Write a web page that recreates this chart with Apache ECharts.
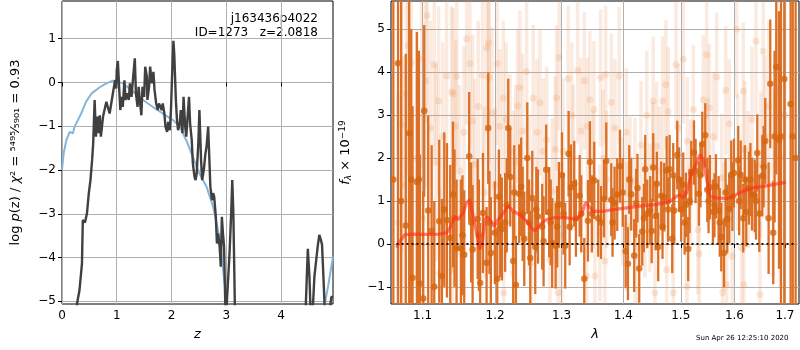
<!DOCTYPE html>
<html>
<head>
<meta charset="utf-8">
<script src="https://cdn.jsdelivr.net/npm/echarts@6/dist/echarts.min.js"></script>
<style>
  html, body { margin: 0; padding: 0; background: #fff; }
  #chart { width: 800px; height: 350px; }
</style>
</head>
<body>
<div id="chart"></div>
<script>
// p(z) panel
var zGrid = [0.2, 0.275, 0.32, 0.365, 0.38, 0.42, 0.456, 0.49, 0.52, 0.55, 0.57, 0.596, 0.62, 0.645, 0.67, 0.69, 0.71, 0.75, 0.785, 0.81,
  0.846, 0.87, 0.91, 0.94, 0.97, 0.99, 1.0, 1.02, 1.04, 1.065, 1.09, 1.11, 1.14, 1.16, 1.19, 1.22, 1.24, 1.27, 1.3, 1.33,
  1.35, 1.38, 1.4, 1.42, 1.45, 1.47, 1.5, 1.52, 1.55, 1.56, 1.59, 1.61, 1.64, 1.67, 1.69, 1.72, 1.75, 1.77, 1.8, 1.82,
  1.84, 1.87, 1.89, 1.92, 1.94, 1.97, 1.99, 2.01, 2.035, 2.05, 2.08, 2.1, 2.12, 2.15, 2.17, 2.2, 2.22, 2.25, 2.27, 2.29,
  2.32, 2.34, 2.37, 2.39, 2.42, 2.44, 2.46, 2.49, 2.51, 2.54, 2.56, 2.59, 2.62, 2.64, 2.67, 2.69, 2.71, 2.74, 2.76, 2.78,
  2.81, 2.83, 2.85, 2.88, 2.9, 2.92, 2.94, 2.96, 2.99, 3.02, 3.06, 3.09, 3.11, 3.13, 3.16, 3.2, 4.4, 4.45, 4.49, 4.52,
  4.54, 4.58, 4.61, 4.64, 4.67, 4.7, 4.73, 4.75, 4.78, 4.8, 4.89, 4.92, 4.95];
var logPz = [-8, -5.05, -4.74, -4.13, -3.14, -3.2, -2.99, -2.53, -2.23, -1.77, -1.39, -0.4, -1.24, -0.78, -1.16, -0.75, -1.24, -0.78, -0.75, -0.44,
  -0.48, -0.71, -0.4, -0.17, 0.05, -0.14, 0.28, 0.49, -0.02, -0.63, -0.33, -0.56, 0.05, -0.4, -0.25, -0.4, -0.02, -0.33, 0.13, 0.55,
  -0.25, -0.56, -0.1, -0.4, -0.75, -0.1, -0.33, 0.36, 0.13, -0.4, -0.1, 0.36, -0.02, 0.24, -0.17, -0.48, -0.63, -0.48, -0.56, -0.63,
  -0.48, -0.71, -1.01, -1.13, -0.9, -1.09, -0.63, 0.13, 0.95, 0.66, -0.4, -0.86, -1.09, -0.94, -0.63, -1.16, -0.33, -1.01, -1.24, -0.86,
  -0.33, -0.94, -1.32, -1.85, -2.15, -2.23, -2.08, -1.39, -0.63, -1.77, -2.23, -2.0, -1.62, -1.47, -1.01, -1.7, -2.38, -2.69, -2.53, -2.61,
  -3.07, -3.68, -3.45, -3.75, -4.21, -3.07, -3.45, -3.75, -5.5, -5.5, -3.91, -2.99, -2.23, -2.99, -5.3, -8, -8, -5.2, -3.8, -4.44,
  -5.2, -5.2, -4.44, -4.4, -3.75, -3.48, -3.6, -3.71, -4.59, -5.2, -5.2, -4.9, -4.9];
var zPrior = [0, 0.03, 0.08, 0.14, 0.17, 0.2, 0.23, 0.29, 0.35, 0.44, 0.54, 0.69, 0.81, 0.93, 0.99, 1.11, 1.3, 1.48, 1.66, 1.84,
  2.03, 2.15, 2.27, 2.39, 2.51, 2.64, 2.76, 2.85, 2.91, 2.97, 3.01, 3.1, 4.7, 4.8, 4.86, 4.95];
var logPrior = [-2.0, -1.62, -1.32, -1.13, -1.09, -1.16, -1.01, -0.86, -0.71, -0.44, -0.25, -0.11, -0.02, 0.04, 0.04, -0.02, -0.21, -0.4, -0.56, -0.71,
  -0.86, -1.01, -1.32, -1.7, -2.08, -2.38, -2.84, -3.37, -3.91, -4.59, -5.05, -6.5, -6.5, -5.05, -4.66, -3.98];
var zTicks = [0, 1, 2, 3, 4];
var pzTicks = [-5, -4, -3, -2, -1, 0, 1];

// spectrum panel: dark points (last rows = bars whose dots sit behind others)
var darkLam = [1.068, 1.078, 1.0824, 1.0868, 1.0925, 1.0964, 1.1008, 1.1021, 1.1074, 1.1155, 1.1222, 1.1258, 1.1326, 1.1371, 1.1408, 1.1458, 1.1518, 1.1564, 1.1633, 1.1681,
  1.1752, 1.1788, 1.1827, 1.1879, 1.1902, 1.194, 1.1998, 1.2032, 1.2075, 1.21, 1.2147, 1.2192, 1.2221, 1.2265, 1.2305, 1.2354, 1.2383, 1.2429, 1.2474, 1.2519,
  1.2549, 1.2594, 1.2635, 1.2721, 1.2761, 1.2807, 1.2853, 1.2906, 1.2957, 1.3004, 1.3056, 1.3109, 1.3146, 1.3198, 1.3284, 1.3358, 1.3417, 1.3449, 1.3519, 1.3584,
  1.3678, 1.3716, 1.3798, 1.3854, 1.3898, 1.3943, 1.4039, 1.4078, 1.4133, 1.4184, 1.4218, 1.427, 1.4322, 1.4373, 1.4408, 1.446, 1.4512, 1.4554, 1.4599, 1.4652,
  1.4705, 1.4748, 1.4801, 1.4847, 1.4883, 1.4937, 1.5008, 1.5045, 1.5093, 1.5135, 1.519, 1.524, 1.5331, 1.5393, 1.5448, 1.5486, 1.5535, 1.5591, 1.5648, 1.5698,
  1.5748, 1.5799, 1.5862, 1.59, 1.5938, 1.599, 1.6073, 1.612, 1.617, 1.6228, 1.6281, 1.634, 1.6393, 1.6445, 1.6485, 1.6544, 1.6603, 1.6703, 1.6763, 1.6824,
  1.6879, 1.6987, 1.7117,
  1.062, 1.072, 1.085, 1.095, 1.112, 1.129, 1.143, 1.154, 1.166, 1.177, 1.192, 1.2055, 1.217, 1.228, 1.2405, 1.25, 1.261, 1.27, 1.283, 1.293,
  1.303, 1.3125, 1.3225, 1.331, 1.348, 1.363, 1.382, 1.399, 1.41, 1.424, 1.435, 1.4485, 1.4575, 1.4675, 1.4775, 1.4865, 1.497, 1.507, 1.516, 1.527,
  1.536, 1.551, 1.562, 1.572, 1.583, 1.596, 1.609, 1.62, 1.631, 1.642, 1.657, 1.667, 1.679, 1.692, 1.716, 1.722];
var darkFlux = [4.21, 0.43, 2.58, -0.79, 1.44, -0.92, -1.27, 3.1, 0.78, -1.0, 0.53, -0.75, 0.55, 0.14, 1.15, -0.1, -0.1, -0.25, 2.04, -0.13,
  0.58, -0.91, 0.72, -0.44, 2.7, -0.21, 0.26, -0.81, 0.43, 0.35, 0.5, 2.7, 1.56, -0.4, -0.96, 1.17, 1.33, 0.12, 2.0, -0.33,
  1.07, -0.07, 0.64, 0.06, 1.73, 0.74, 0.02, -0.04, 0.91, 1.6, -0.04, 2.1, 1.32, 1.4, 1.12, -0.81, 0.54, 1.91, 1.48, 0.6,
  1.05, 1.93, 1.03, 0.95, 1.15, 1.81, -0.17, -0.46, 1.16, -0.27, 0.95, -0.57, 0.29, 1.74, 0.7, 0.78, 1.78, 0.65, -0.07, 1.12,
  1.09, 1.71, 1.74, 0.12, 0.78, 2.07, 0.8, 1.38, 0.91, -0.12, 1.65, 2.13, 1.17, 2.33, 2.53, 1.26, 1.32, 0.75, 1.34, 0.78,
  0.16, -0.21, 0.58, 0.81, 1.61, 1.65, 1.95, 1.61, 0.6, 0.74, 1.3, 1.16, 1.12, 2.12, 0.71, 1.59, 2.4, 3.73, 0.26, 4.12,
  2.42, 3.84, 3.26,
  1.5, 1.0, 1.5, 1.5, 0.3, 0.8, 0.6, 0.2, 0.5, 0.2, 0.5, 1.1, 0.9, 1.2, 0.7, 0.5, 0.8, 0.4, 0.5, 0.4,
  0.7, 0.4, 0.6, 0.7, 0.7, 0.5, 0.5, 1.2, 1.5, 1.3, 0.6, 0.3, 1.4, 0.4, 0.8, 1.6, 1.5, 0.5, 1.0, 1.7,
  1.6, 1.0, 0.9, 0.5, 1.2, 1.1, 1.0, 1.5, 1.5, 1.0, 1.8, 0.6, 2.5, 2.5, 2.5, 2.0];
var darkErr = [6, 4, 5, 4, 3.5, 3, 2.5, 2, 2.2, 2, 1.9, 1.8, 1.8, 1.7, 1.7, 1.6, 1.6, 1.5, 1.5, 1.5,
  1.4, 1.4, 1.4, 1.3, 1.3, 1.3, 1.2, 1.2, 1.2, 1.2, 1.15, 1.15, 1.15, 1.15, 1.15, 1.15, 1.15, 1.1, 1.3, 1.1,
  1.1, 1.1, 1.1, 1.05, 1.05, 1.05, 1.05, 1.0, 1.0, 1.0, 1.0, 1.0, 1.0, 1.0, 0.95, 0.95, 0.95, 0.95, 0.9, 0.9,
  0.9, 0.9, 0.85, 0.85, 0.85, 0.85, 0.85, 0.85, 0.85, 0.85, 0.8, 0.8, 0.8, 0.8, 0.8, 0.8, 0.8, 0.8, 0.8, 0.8,
  0.8, 0.8, 0.8, 0.8, 0.8, 0.8, 0.75, 0.75, 0.75, 0.75, 0.75, 0.75, 0.75, 0.75, 0.75, 0.75, 0.75, 0.75, 0.75, 0.8,
  0.8, 0.8, 0.8, 0.8, 0.8, 0.8, 0.8, 0.8, 0.8, 0.8, 0.85, 0.85, 0.85, 0.9, 0.9, 0.95, 1.0, 1.5, 1.2, 2.5,
  3, 6, 6,
  6, 5, 3.5, 3, 2.0, 1.8, 1.6, 1.4, 1.4, 1.3, 1.2, 1.1, 1.1, 1.1, 1.1, 1.0, 1.0, 1.0, 1.0, 0.95,
  0.95, 0.9, 0.9, 0.9, 0.9, 0.85, 0.8, 0.8, 0.8, 0.8, 0.8, 0.75, 0.75, 0.75, 0.75, 0.75, 0.75, 0.75, 0.75, 0.75,
  0.75, 0.75, 0.75, 0.8, 0.8, 0.8, 0.8, 0.8, 0.85, 0.9, 0.95, 1.3, 2, 4, 6, 6];

// faded points (other exposures)
var fadeLam = [1.0726, 1.075, 1.0811, 1.085, 1.0987, 1.1, 1.1061, 1.1106, 1.1155, 1.1214, 1.1231, 1.1322, 1.139, 1.1395, 1.1412, 1.1445, 1.15, 1.1597, 1.1643, 1.1681,
  1.171, 1.1822, 1.1879, 1.1907, 1.1916, 1.1955, 1.2002, 1.2071, 1.2119, 1.2125, 1.2217, 1.2265, 1.227, 1.233, 1.2364, 1.2404, 1.2464, 1.25, 1.2535, 1.2564,
  1.2665, 1.2715, 1.2767, 1.2818, 1.2853, 1.2921, 1.2946, 1.2962, 1.3, 1.3019, 1.3103, 1.3182, 1.3252, 1.3305, 1.3396, 1.3406, 1.3449, 1.35, 1.3514, 1.353,
  1.3612, 1.3623, 1.3694, 1.3705, 1.3722, 1.3859, 1.3931, 1.3988, 1.4055, 1.4111, 1.4196, 1.42, 1.4253, 1.4368, 1.4455, 1.45, 1.4512, 1.4542, 1.4572, 1.4677,
  1.4735, 1.4748, 1.4776, 1.4865, 1.4913, 1.5045, 1.5112, 1.5118, 1.5228, 1.5313, 1.5337, 1.5412, 1.5475, 1.55, 1.5523, 1.5662, 1.5756, 1.5775, 1.58, 1.5833,
  1.5851, 1.5957, 1.6042, 1.6138, 1.617, 1.6183, 1.62, 1.6267, 1.6419, 1.6498, 1.6512, 1.6563, 1.6677, 1.6763, 1.69,
  1.068, 1.079, 1.092, 1.104, 1.118, 1.127, 1.146, 1.156, 1.176, 1.185, 1.203, 1.216, 1.23, 1.262, 1.29, 1.316, 1.336, 1.366, 1.38, 1.405,
  1.43, 1.44, 1.462, 1.496, 1.518, 1.56, 1.59, 1.606, 1.634, 1.66, 1.684, 1.7];
var fadeFlux = [2.78, 1.38, 4.62, 4.23, 4.3, 0.6, 5.32, 2.7, 4.18, 3.33, -0.68, 3.91, 3.54, -0.6, 3.5, 2.74, 1.7, 4.78, 4.2, 2.87,
  1.85, 3.93, 4.57, 4.69, 3.87, 3.05, 1.38, 2.74, 3.4, -1.14, 2.16, 1.31, -0.68, 3.22, 3.64, 2.63, 4.02, 1.2, -0.44, 3.4,
  3.29, 2.16, 2.43, -0.37, 1.23, 3.4, -1.14, 4.34, 0.2, 2.16, 3.85, 2.0, 4.04, 2.63, -0.75, 2.74, 3.36, 1.5, 3.13, -0.75,
  0.26, 3.87, -0.4, 3.95, 1.5, 2.7, 3.91, 0.99, 0.41, 1.46, 1.44, -0.3, -0.09, 0.72, 0.84, 1.8, 3.33, -1.14, 2.28, 3.33,
  3.71, -0.6, 3.08, -1.14, 4.18, 4.3, -0.99, 2.39, 3.13, 0.33, -0.23, 3.36, 4.41, 1.9, 3.17, 3.89, 1.54, -1.14, 0.4, 3.58,
  -0.95, -0.29, 5.0, -0.09, 3.56, -0.95, 2.2, 1.5, 4.72, -1.18, 1.85, 4.49, 3.21, 1.42, 2.0,
  0.5, 3.5, 2.0, 3.8, 1.9, 2.5, 3.9, 2.6, 3.2, 1.2, 4.2, 2.9, 1.9, 2.6, 2.2, 3.0, 3.8, 2.0, 3.3, 2.6,
  2.3, 3.0, 1.7, 2.7, 1.4, 2.5, 2.8, 1.9, 2.9, 2.5, 3.5, 3.0];
var fadeErr = [3, 3, 3, 3, 2.5, 2.5, 2.5, 2.5, 2.2, 2.2, 2, 2, 2, 2, 2, 2, 2, 2, 2, 2,
  2, 2, 2, 2, 2, 2, 1.8, 1.8, 1.8, 1.8, 1.8, 1.8, 1.8, 1.8, 1.8, 1.8, 1.8, 1.8, 1.7, 1.7,
  1.7, 1.7, 1.7, 1.7, 1.7, 1.7, 1.7, 1.7, 1.7, 1.7, 1.7, 1.7, 1.7, 1.7, 1.6, 1.6, 1.6, 1.6, 1.6, 1.6,
  1.6, 1.6, 1.6, 1.6, 1.6, 1.6, 1.6, 1.5, 1.5, 1.5, 1.5, 1.5, 1.5, 1.5, 1.5, 1.5, 1.5, 1.5, 1.5, 1.5,
  1.5, 1.5, 1.5, 1.5, 1.5, 1.5, 1.5, 1.5, 1.5, 1.5, 1.5, 1.5, 1.5, 1.5, 1.5, 1.5, 1.5, 1.5, 1.5, 1.5,
  1.5, 1.5, 1.6, 1.6, 1.6, 1.6, 1.6, 1.6, 1.7, 1.7, 1.7, 1.8, 2, 2.2, 3,
  3, 3, 3, 2.5, 2.3, 2.2, 2.1, 2, 2, 2, 1.9, 1.8, 1.8, 1.7, 1.7, 1.7, 1.6, 1.6, 1.6, 1.5,
  1.5, 1.5, 1.5, 1.5, 1.5, 1.5, 1.5, 1.6, 1.7, 1.9, 2.5, 3];

var modelLam = [1.0661, 1.0704, 1.0769, 1.0877, 1.1053, 1.1231, 1.1322, 1.1367, 1.1435, 1.1481, 1.155, 1.1597, 1.1643, 1.169, 1.1738, 1.1784, 1.1822, 1.1855, 1.1888, 1.1926,
  1.1984, 1.2046, 1.2119, 1.2192, 1.2265, 1.2364, 1.2464, 1.2539, 1.2589, 1.2665, 1.2767, 1.2869, 1.3072, 1.323, 1.331, 1.338, 1.3433, 1.3498, 1.3666, 1.3831,
  1.4055, 1.4282, 1.4572, 1.4806, 1.4926, 1.4985, 1.5045, 1.5106, 1.5197, 1.5289, 1.5349, 1.5412, 1.5475, 1.5535, 1.5662, 1.5851, 1.5976, 1.617, 1.6366, 1.6563,
  1.6763, 1.7021];
var modelFlux = [-0.09, 0.06, 0.22, 0.23, 0.22, 0.23, 0.26, 0.37, 0.64, 0.57, 0.72, 0.96, 1.03, 0.64, 0.26, -0.13, 0.1, 0.57, 0.64, 0.57,
  0.41, 0.57, 0.72, 0.88, 0.76, 0.68, 0.53, 0.37, 0.3, 0.45, 0.57, 0.61, 0.61, 0.57, 0.68, 0.96, 0.88, 0.76, 0.76, 0.8,
  0.84, 0.88, 0.92, 0.99, 1.11, 1.15, 1.07, 1.19, 1.66, 1.89, 2.08, 1.97, 1.5, 1.11, 1.07, 1.06, 1.11, 1.23, 1.31, 1.34,
  1.38, 1.44];
var lamTicks = [1.1, 1.2, 1.3, 1.4, 1.5, 1.6, 1.7];
var fluxTicks = [-1, 0, 1, 2, 3, 4, 5];
var zeroLam = [1.066, 1.722];

function zip() {
  var cols = Array.prototype.slice.call(arguments);
  return cols[0].map(function (_, i) { return cols.map(function (c) { return c[i]; }); });
}
function minus(v) { return String(v).replace('-', '\u2212'); }

function errBars(color, w) {
  return function (params, api) {
    var x = api.value(0), y = api.value(1), e = api.value(2);
    var top = api.coord([x, y + e]);
    var bot = api.coord([x, y - e]);
    var shape = echarts.graphic.clipRectByRect({
      x: top[0] - w / 2, y: top[1], width: w, height: bot[1] - top[1]
    }, {
      x: params.coordSys.x, y: params.coordSys.y,
      width: params.coordSys.width, height: params.coordSys.height
    });
    return shape && { type: 'rect', shape: shape, style: { fill: color } };
  };
}

var font = 'DejaVu Sans';
var tickStyle = { show: true, length: 4, lineStyle: { color: '#000', width: 1 } };
var gridLine = { show: true, lineStyle: { color: '#b0b0b0', width: 1 } };
var lbl = { color: '#000', fontFamily: font, fontSize: 12, margin: 6 };

var chart = echarts.init(document.getElementById('chart'), null, { renderer: 'canvas' });
chart.setOption({
  animation: false,
  backgroundColor: '#fff',
  grid: [
    { left: 62, top: 1, width: 271, height: 303, show: true, borderColor: '#000', borderWidth: 1, backgroundColor: 'transparent' },
    { left: 391, top: 1, width: 408, height: 303, show: true, borderColor: '#000', borderWidth: 1, backgroundColor: 'transparent' }
  ],
  xAxis: [
    {
      gridIndex: 0, type: 'value', min: 0, max: 4.95,
      axisLine: { show: false }, axisTick: Object.assign({ customValues: zTicks }, tickStyle),
      axisLabel: Object.assign({ customValues: zTicks, formatter: minus }, lbl), splitLine: gridLine,
      name: 'z', nameLocation: 'middle', nameGap: 24,
      nameTextStyle: { fontFamily: font, fontSize: 13, fontStyle: 'italic', color: '#000' }
    },
    {
      gridIndex: 1, type: 'log', min: 1.059, max: 1.729,
      axisLine: { show: false }, axisTick: Object.assign({ customValues: lamTicks }, tickStyle),
      axisLabel: Object.assign({ customValues: lamTicks, formatter: function (v) { return (+v).toFixed(1); } }, lbl),
      splitLine: gridLine,
      name: 'λ', nameLocation: 'middle', nameGap: 24,
      nameTextStyle: { fontFamily: font, fontSize: 13, fontStyle: 'italic', color: '#000' }
    }
  ],
  yAxis: [
    {
      gridIndex: 0, type: 'value', min: -5.06, max: 1.86,
      axisLine: { show: false }, axisTick: Object.assign({ customValues: pzTicks }, tickStyle),
      axisLabel: Object.assign({ customValues: pzTicks, formatter: minus }, lbl), splitLine: gridLine,
      name: 'log {it|p}(z) / {it|χ}² = ⁵⁴⁹⁵⁄₅₉₀₁ = 0.93', nameLocation: 'middle', nameGap: 40,
      nameTextStyle: { fontFamily: font, fontSize: 13, color: '#000',
        rich: { it: { fontFamily: font, fontSize: 13, fontStyle: 'italic', color: '#000' } } }
    },
    {
      gridIndex: 1, type: 'value', min: -1.4, max: 5.66,
      axisLine: { show: false }, axisTick: Object.assign({ customValues: fluxTicks }, tickStyle),
      axisLabel: Object.assign({ customValues: fluxTicks, formatter: minus }, lbl), splitLine: gridLine,
      name: '{it|f}{sub|λ} × 10{sup|−19}', nameLocation: 'middle', nameGap: 38,
      nameTextStyle: { fontFamily: font, fontSize: 13, color: '#000',
        rich: {
          it: { fontFamily: font, fontSize: 13, fontStyle: 'italic', color: '#000' },
          sub: { fontFamily: font, fontSize: 9, fontStyle: 'italic', color: '#000', verticalAlign: 'bottom', padding: [6, 0, 0, 0] },
          sup: { fontFamily: font, fontSize: 9, color: '#000', verticalAlign: 'top', padding: [0, 0, 6, 0] }
        } }
    }
  ],
  series: [
    {
      type: 'line', xAxisIndex: 0, yAxisIndex: 0, data: zip(zPrior, logPrior), showSymbol: false,
      lineStyle: { color: '#86b5da', width: 2 }, clip: true, z: 2
    },
    {
      type: 'line', xAxisIndex: 0, yAxisIndex: 0, data: zip(zGrid, logPz), showSymbol: false,
      lineStyle: { color: '#404040', width: 2.4 }, clip: true, z: 3
    },
    {
      type: 'custom', xAxisIndex: 1, yAxisIndex: 1, data: zip(fadeLam, fadeFlux, fadeErr),
      renderItem: errBars('rgba(236,150,95,0.2)', 3.5), encode: { x: 0, y: 1 }, z: 2
    },
    {
      type: 'scatter', xAxisIndex: 1, yAxisIndex: 1, data: zip(fadeLam, fadeFlux), symbolSize: 7,
      itemStyle: { color: 'rgba(236,150,95,0.28)' }, z: 2
    },
    {
      type: 'custom', xAxisIndex: 1, yAxisIndex: 1, data: zip(darkLam, darkFlux, darkErr),
      renderItem: errBars('#dc7026', 2.3), encode: { x: 0, y: 1 }, z: 3
    },
    {
      type: 'scatter', xAxisIndex: 1, yAxisIndex: 1, data: zip(darkLam, darkFlux), symbolSize: 6.5,
      itemStyle: { color: '#d4650f' }, z: 4
    },
    {
      type: 'line', xAxisIndex: 1, yAxisIndex: 1, data: zip(modelLam, modelFlux), showSymbol: false,
      lineStyle: { color: 'rgba(255,45,25,0.6)', width: 3.2 }, z: 5
    },
    {
      type: 'line', xAxisIndex: 1, yAxisIndex: 1, data: zip(zeroLam, [0, 0]), showSymbol: false,
      lineStyle: { color: '#000', width: 1.8, type: [2, 3] }, z: 6
    }
  ],
  graphic: [
    { type: 'text', right: 482, top: 13,
      style: { text: 'j163436p4022', fontFamily: font, fontSize: 12, fill: '#000', textAlign: 'right' } },
    { type: 'text', right: 482, top: 27,
      style: { text: 'ID=1273   z=2.0818', fontFamily: font, fontSize: 12, fill: '#000', textAlign: 'right' } },
    { type: 'text', left: 696, top: 335,
      style: { text: 'Sun Apr 26 12:25:10 2020', fontFamily: font, fontSize: 7, fill: '#000' } }
  ]
});
</script>
</body>
</html>
